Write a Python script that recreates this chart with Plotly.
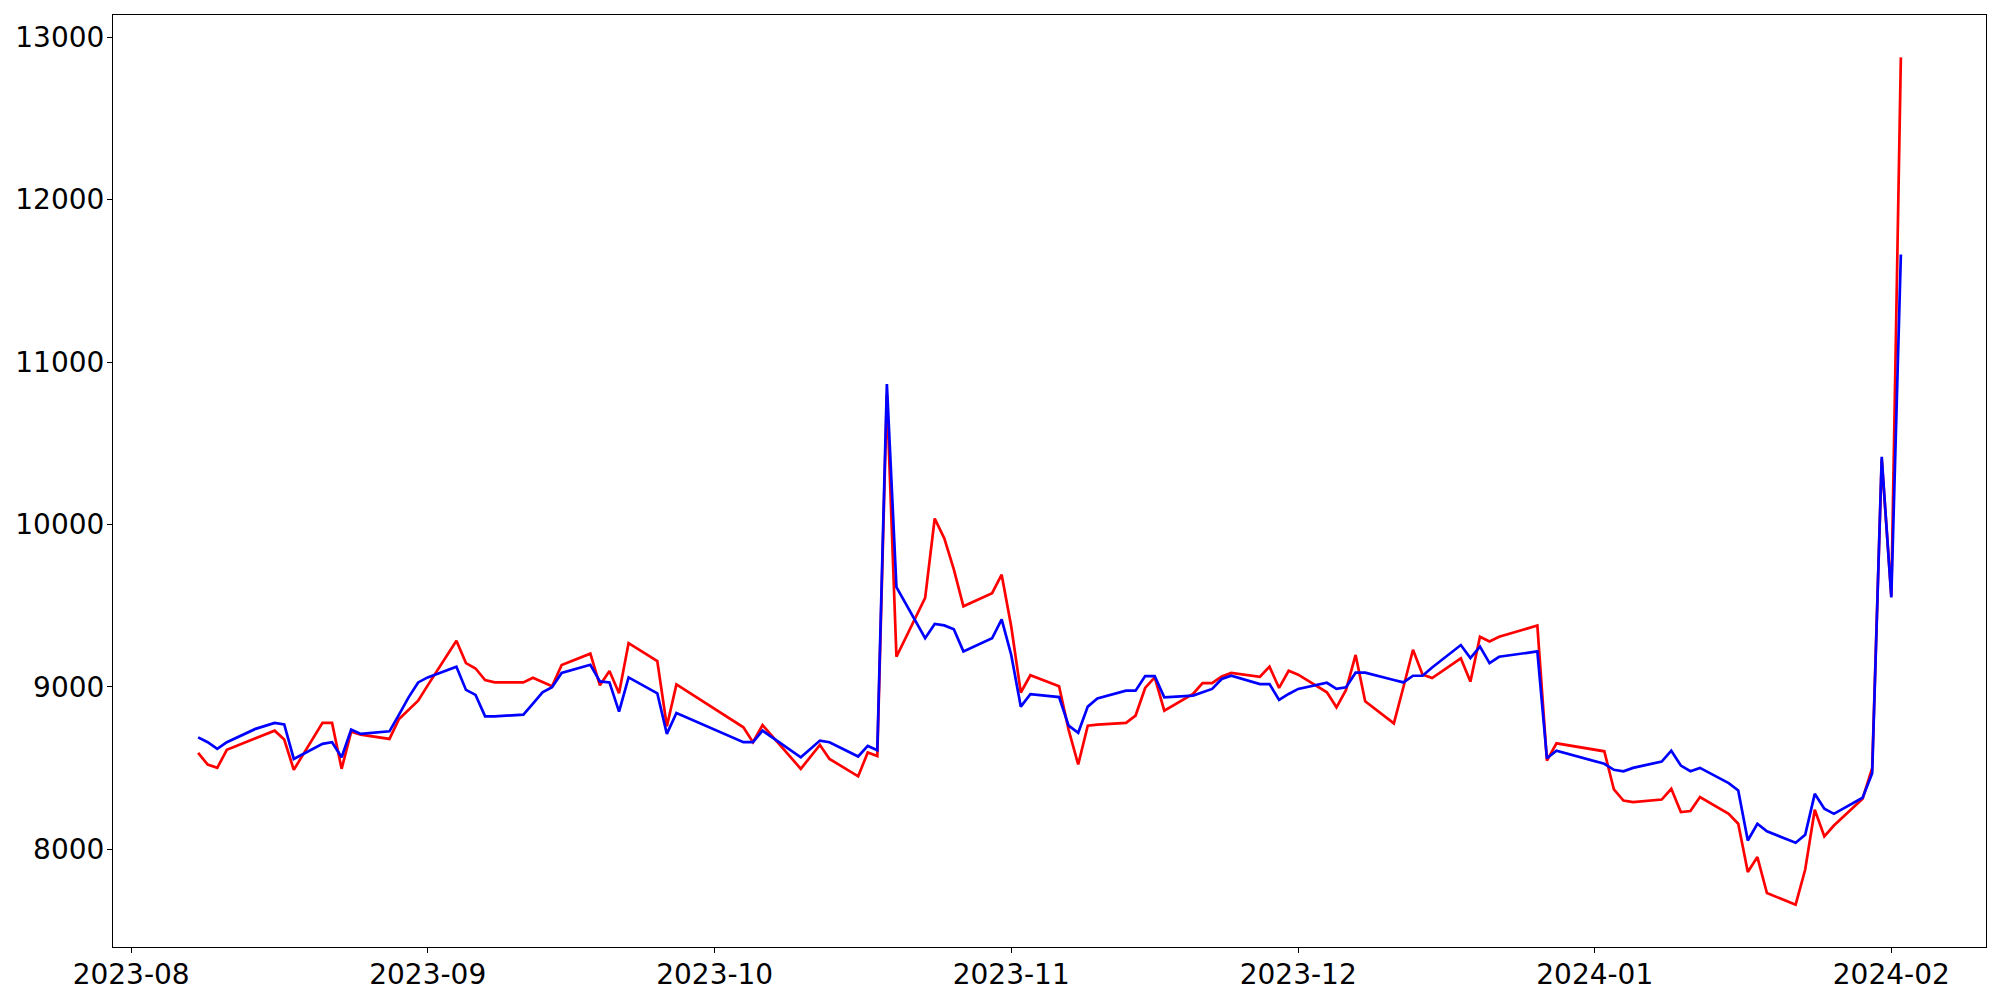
import plotly.graph_objects as go
import pandas as pd

dates = [
    "2023-08-08", "2023-08-09", "2023-08-10", "2023-08-11", "2023-08-14", "2023-08-16",
    "2023-08-17", "2023-08-18", "2023-08-21", "2023-08-22", "2023-08-23", "2023-08-24",
    "2023-08-25", "2023-08-28", "2023-08-29", "2023-08-30", "2023-08-31",
    "2023-09-01", "2023-09-04", "2023-09-05", "2023-09-06", "2023-09-07", "2023-09-08",
    "2023-09-11", "2023-09-12", "2023-09-13", "2023-09-14", "2023-09-15", "2023-09-18",
    "2023-09-19", "2023-09-20", "2023-09-21", "2023-09-22", "2023-09-25", "2023-09-26",
    "2023-09-27",
    "2023-10-04", "2023-10-05", "2023-10-06", "2023-10-10", "2023-10-11", "2023-10-12",
    "2023-10-13", "2023-10-16", "2023-10-17", "2023-10-18", "2023-10-19", "2023-10-20",
    "2023-10-23", "2023-10-24", "2023-10-25", "2023-10-26", "2023-10-27", "2023-10-30",
    "2023-10-31",
    "2023-11-01", "2023-11-02", "2023-11-03", "2023-11-06", "2023-11-07", "2023-11-08",
    "2023-11-09", "2023-11-10", "2023-11-13", "2023-11-14", "2023-11-15", "2023-11-16",
    "2023-11-17", "2023-11-20", "2023-11-21", "2023-11-22", "2023-11-23", "2023-11-24",
    "2023-11-27", "2023-11-28", "2023-11-29", "2023-11-30",
    "2023-12-01", "2023-12-04", "2023-12-05", "2023-12-06", "2023-12-07", "2023-12-08",
    "2023-12-11", "2023-12-12", "2023-12-13", "2023-12-14", "2023-12-15", "2023-12-18",
    "2023-12-19", "2023-12-20", "2023-12-21", "2023-12-22", "2023-12-26", "2023-12-27",
    "2023-12-28",
    "2024-01-02", "2024-01-03", "2024-01-04", "2024-01-05", "2024-01-08", "2024-01-09",
    "2024-01-10", "2024-01-11", "2024-01-12", "2024-01-15", "2024-01-16", "2024-01-17",
    "2024-01-18", "2024-01-19", "2024-01-22", "2024-01-23", "2024-01-24", "2024-01-25",
    "2024-01-26", "2024-01-29", "2024-01-30", "2024-01-31",
    "2024-02-01", "2024-02-02",
]

red_vals = [
    8594, 8522, 8502, 8613, 8685, 8731,
    8676, 8490, 8779, 8779, 8496, 8725,
    8707, 8680, 8803, 8860, 8916,
    9010, 9285, 9147, 9114, 9043, 9028,
    9028, 9057, 9030, 9004, 9135, 9205,
    9010, 9098, 8961, 9270, 9160, 8758,
    9016,
    8752, 8660, 8766, 8496, 8570, 8643,
    8557, 8450, 8597, 8575, 10800, 9186,
    9548, 10037, 9915, 9724, 9497, 9577,
    9691,
    9372, 8966, 9072, 9004, 8736, 8523,
    8762, 8768, 8779, 8824, 8994, 9059,
    8854, 8957, 9024, 9024, 9065, 9086,
    9063, 9125, 8994, 9100,
    9076, 8967, 8875, 8982, 9197, 8912,
    8776, 9000, 9229, 9076, 9055, 9176,
    9033, 9309, 9280, 9309, 9378, 8547,
    8653,
    8604, 8369, 8301, 8291, 8307, 8373,
    8230, 8236, 8322, 8219, 8158, 7861,
    7953, 7731, 7660, 7876, 8244, 8080,
    8147, 8312, 8500, 10400,
    9560, 12876,
]

blue_vals = [
    8690, 8660, 8619, 8660, 8742, 8779,
    8770, 8557, 8650, 8660, 8567, 8738,
    8711, 8727, 8830, 8936, 9028,
    9059, 9125, 8982, 8951, 8819, 8819,
    8830, 8898, 8967, 8998, 9086, 9137,
    9034, 9028, 8848, 9059, 8961, 8711,
    8840,
    8660, 8660, 8731, 8567, 8618, 8670,
    8660, 8572, 8637, 8611, 10865, 9614,
    9300, 9388, 9379, 9355, 9219, 9300,
    9416,
    9197, 8879, 8955, 8938, 8762, 8718,
    8879, 8929, 8977, 8977, 9067, 9067,
    8936, 8947, 8967, 8988, 9049, 9069,
    9018, 9018, 8920, 8957,
    8988, 9026, 8988, 8998, 9088, 9088,
    9043, 9028, 9069, 9069, 9120, 9258,
    9178, 9248, 9147, 9186, 9219, 8561,
    8608,
    8527, 8490, 8481, 8502, 8541, 8608,
    8516, 8481, 8502, 8408, 8363, 8055,
    8158, 8111, 8041, 8090, 8342, 8250,
    8219, 8318, 8469, 10417,
    9551, 11662,
]

x = pd.to_datetime(dates)
span = x.max() - x.min()
x_range = [x.min() - span * 0.05, x.max() + span * 0.05]
lo = min(red_vals + blue_vals)
hi = max(red_vals + blue_vals)
pad = (hi - lo) * 0.05

fig = go.Figure()
fig.add_trace(go.Scatter(x=x, y=red_vals, mode="lines",
                         line=dict(color="#ff0000", width=2.7), showlegend=False))
fig.add_trace(go.Scatter(x=x, y=blue_vals, mode="lines",
                         line=dict(color="#0000ff", width=2.7), showlegend=False))

axis_style = dict(showline=True, mirror=True, linecolor="black", linewidth=1.1,
                  ticks="outside", ticklen=5, tickwidth=1.1, tickcolor="black",
                  showgrid=False, zeroline=False, automargin=False,
                  tickfont=dict(family="DejaVu Sans", size=28, color="black"))

# the page body adds an 8px offset, so the figure is drawn 16px smaller
fig.update_layout(
    width=1984, height=984, autosize=False,
    paper_bgcolor="white", plot_bgcolor="white",
    margin=dict(l=105, r=6, t=7, b=45),
    xaxis=dict(type="date", range=x_range, tickformat="%Y-%m", dtick="M1",
               tick0="2023-08-01", ticklabelstandoff=-3, **axis_style),
    yaxis=dict(range=[lo - pad, hi + pad], dtick=1000, tick0=0, tickformat="d",
               ticklabelstandoff=-3, **axis_style),
)

fig.write_html("out.html")
